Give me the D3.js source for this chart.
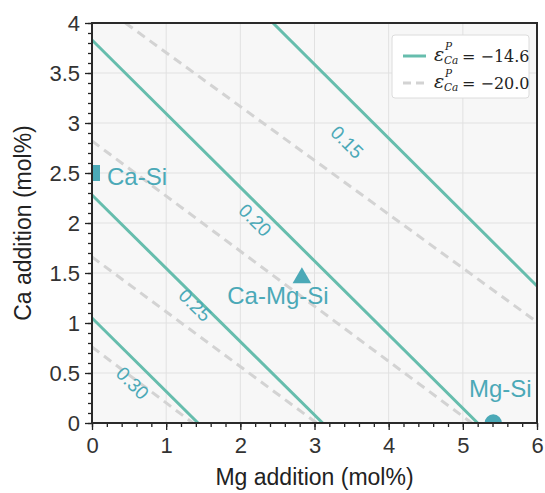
<!DOCTYPE html>
<html>
<head>
<meta charset="utf-8">
<script src="https://cdn.jsdelivr.net/npm/d3@7"></script>
<style>
  body { margin: 0; background: #ffffff; }
  svg { display: block; }
</style>
</head>
<body>
<svg id="chart" width="545" height="493"></svg>
<script>
// Axis ticks
const xTicks = [0, 1, 2, 3, 4, 5, 6];
const xMinorTicks = d3.range(0, 6.0001, 0.2);
const yTicks = [0, 0.5, 1, 1.5, 2, 2.5, 3, 3.5, 4];
const yTickLabels = ["0", "0.5", "1", "1.5", "2", "2.5", "3", "3.5", "4"];
const yMinorTicks = d3.range(0, 4.0001, 0.1);

// Iso-lines (Mg, Ca end points), eps = -14.6 (solid) and eps = -20.0 (dashed)
const levels = ["0.15", "0.20", "0.25", "0.30"];
const solidStart = [[2.44, 4], [0, 3.83], [0, 2.28], [0, 1.05]];
const solidEnd   = [[6, 1.37], [5.20, 0], [3.11, 0], [1.43, 0]];
const dashedStart = [[0.45, 4], [0, 2.82], [0, 1.66], [0, 0.76]];
const dashedEnd   = [[6, 1.01], [5.12, 0], [3.03, 0], [1.36, 0]];
const levelLabelAt = [[3.44, 2.81], [2.20, 2.03], [1.39, 1.18], [0.55, 0.40]];

// Compositions
const systems = ["Ca-Si", "Ca-Mg-Si", "Mg-Si"];
const sysMg = [0, 2.83, 5.41];
const sysCa = [2.5, 1.45, 0];
const sysShape = ["square", "triangle", "circle"];

// Legend
const legendValues = ["−14.6", "−20.0"];
const legendDashed = [false, true];

const teal = "#66bdad";
const markColor = "#4ba9b7";
const grey = "#d3d3d3";

const svg = d3.select("#chart");
const L = 92, R = 537, T = 23, B = 423;
const x = d3.scaleLinear().domain([0, 6]).range([L, R]);
const y = d3.scaleLinear().domain([0, 4]).range([B, T]);

svg.append("defs").append("clipPath").attr("id", "plotClip")
  .append("rect").attr("x", L).attr("y", T).attr("width", R - L).attr("height", B - T);

// Plot background and grid
svg.append("rect").attr("x", L).attr("y", T).attr("width", R - L).attr("height", B - T)
  .attr("fill", "#f7f7f7");
const grid = svg.append("g");
grid.selectAll(".gx").data(xTicks).join("line")
  .attr("x1", d => x(d)).attr("x2", d => x(d)).attr("y1", T).attr("y2", B)
  .attr("stroke", "#e1e1e1").attr("stroke-width", 1);
grid.selectAll(".gy").data(yTicks).join("line")
  .attr("y1", d => y(d)).attr("y2", d => y(d)).attr("x1", L).attr("x2", R)
  .attr("stroke", "#e1e1e1").attr("stroke-width", 1);

const plot = svg.append("g").attr("clip-path", "url(#plotClip)");

// Dashed iso-lines
plot.selectAll(".dash").data(d3.range(dashedStart.length)).join("line")
  .attr("x1", i => x(dashedStart[i][0])).attr("y1", i => y(dashedStart[i][1]))
  .attr("x2", i => x(dashedEnd[i][0])).attr("y2", i => y(dashedEnd[i][1]))
  .attr("stroke", grey).attr("stroke-width", 3).attr("stroke-dasharray", "9,6");

// Solid iso-lines
plot.selectAll(".solid").data(d3.range(solidStart.length)).join("line")
  .attr("x1", i => x(solidStart[i][0])).attr("y1", i => y(solidStart[i][1]))
  .attr("x2", i => x(solidEnd[i][0])).attr("y2", i => y(solidEnd[i][1]))
  .attr("stroke", teal).attr("stroke-width", 3);

// Level labels, rotated along the lines
levels.forEach((lv, i) => {
  const a = Math.atan2(y(solidEnd[i][1]) - y(solidStart[i][1]),
                       x(solidEnd[i][0]) - x(solidStart[i][0])) * 180 / Math.PI;
  const cx = x(levelLabelAt[i][0]), cy = y(levelLabelAt[i][1]);
  svg.append("text")
    .attr("transform", `translate(${cx},${cy}) rotate(${a})`)
    .attr("text-anchor", "middle").attr("dy", "0.36em")
    .attr("font-family", "Liberation Sans, Arial, sans-serif")
    .attr("font-size", 19).attr("fill", markColor)
    .text(lv);
});

// Composition markers
const shapeOf = { square: d3.symbolSquare, triangle: d3.symbolTriangle, circle: d3.symbolCircle };
const sizeOf = { square: 256, triangle: 150, circle: 235 };
plot.selectAll(".mark").data(d3.range(systems.length)).join("path")
  .attr("transform", i => `translate(${x(sysMg[i])},${y(sysCa[i])})`)
  .attr("d", i => d3.symbol().type(shapeOf[sysShape[i]]).size(sizeOf[sysShape[i]])())
  .attr("fill", markColor);

const labelOffset = [[15, 12, "start"], [-24, 26, "middle"], [7, -26, "middle"]];
svg.selectAll(".sysLabel").data(d3.range(systems.length)).join("text")
  .attr("x", i => x(sysMg[i]) + labelOffset[i][0])
  .attr("y", i => y(sysCa[i]) + labelOffset[i][1])
  .attr("text-anchor", i => labelOffset[i][2])
  .attr("font-family", "Liberation Sans, Arial, sans-serif")
  .attr("font-size", 24).attr("fill", markColor)
  .text(i => systems[i]);

// Axes
const axisFont = "Liberation Sans, Arial, sans-serif";
const xAxis = svg.append("g").attr("transform", `translate(0,${B})`)
  .call(d3.axisBottom(x).tickValues(xTicks).tickFormat(d3.format("d")).tickSize(7).tickPadding(7));
const xMinor = svg.append("g").attr("transform", `translate(0,${B})`)
  .call(d3.axisBottom(x).tickValues(xMinorTicks).tickFormat("").tickSize(4));
const yAxis = svg.append("g").attr("transform", `translate(${L},0)`)
  .call(d3.axisLeft(y).tickValues(yTicks).tickFormat((d, i) => yTickLabels[i]).tickSize(7).tickPadding(5));
const yMinor = svg.append("g").attr("transform", `translate(${L},0)`)
  .call(d3.axisLeft(y).tickValues(yMinorTicks).tickFormat("").tickSize(4));
[xAxis, xMinor, yAxis, yMinor].forEach(g => {
  g.select(".domain").remove();
  g.selectAll("line").attr("stroke", "#222").attr("stroke-width", 1.3);
  g.selectAll("text").attr("font-family", axisFont).attr("font-size", 22).attr("fill", "#333");
});

// Frame
svg.append("rect").attr("x", L).attr("y", T).attr("width", R - L).attr("height", B - T)
  .attr("fill", "none").attr("stroke", "#2a2a2a").attr("stroke-width", 2);

// Axis titles
svg.append("text").attr("x", (L + R) / 2).attr("y", 485).attr("text-anchor", "middle")
  .attr("font-family", axisFont).attr("font-size", 23).attr("fill", "#222")
  .text("Mg addition (mol%)");
svg.append("text").attr("transform", `translate(31,${(T + B) / 2}) rotate(-90)`)
  .attr("text-anchor", "middle")
  .attr("font-family", axisFont).attr("font-size", 23).attr("fill", "#222")
  .text("Ca addition (mol%)");

// Legend
const lg = svg.append("g");
lg.append("rect").attr("x", 392).attr("y", 35).attr("width", 137).attr("height", 63)
  .attr("rx", 3).attr("fill", "#ffffff").attr("stroke", "#dcdcdc").attr("stroke-width", 1);
legendValues.forEach((v, i) => {
  const cy = 56 + i * 27;
  lg.append("line").attr("x1", 403).attr("x2", 426).attr("y1", cy).attr("y2", cy)
    .attr("stroke", legendDashed[i] ? grey : teal).attr("stroke-width", 3)
    .attr("stroke-dasharray", legendDashed[i] ? "8,5" : null);
  const serif = "DejaVu Serif, Liberation Serif, serif";
  lg.append("text").attr("x", 434).attr("y", cy + 5)
    .attr("font-family", serif).attr("font-style", "italic").attr("font-size", 19)
    .attr("fill", "#222").text("ε");
  lg.append("text").attr("x", 445).attr("y", cy - 6)
    .attr("font-family", serif).attr("font-style", "italic").attr("font-size", 10.5)
    .attr("fill", "#222").text("P");
  lg.append("text").attr("x", 444).attr("y", cy + 8)
    .attr("font-family", serif).attr("font-style", "italic").attr("font-size", 10.5)
    .attr("fill", "#222").text("Ca");
  lg.append("text").attr("x", 462).attr("y", cy + 6)
    .attr("font-family", serif).attr("font-size", 16)
    .attr("fill", "#222").text("= " + v);
});
</script>
</body>
</html>
